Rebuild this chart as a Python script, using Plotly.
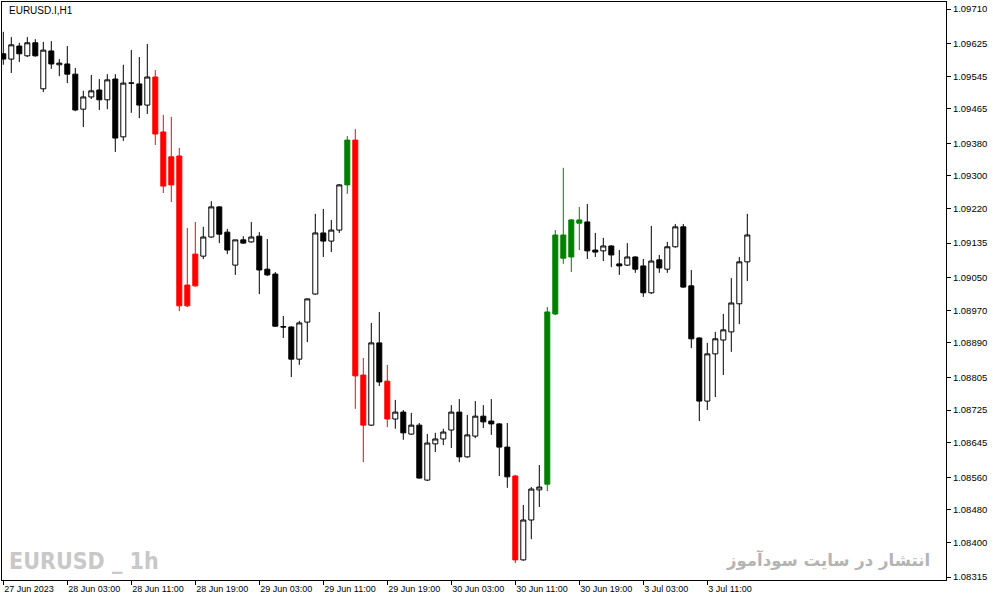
import plotly.graph_objects as go

# ---- data (EURUSD.I, H1) ----
opens = [1.09600,1.09587,1.09619,1.09595,1.09627,1.09514,1.09607,1.09573,1.09575,1.09550,
         1.09464,1.09494,1.09511,1.09487,1.09538,1.09396,1.09528,1.09526,1.09474,1.09543,
         1.09408,1.09278,1.09349,1.08981,1.09030,1.09103,1.09150,1.09224,1.09162,1.09081,
         1.09143,1.09138,1.09152,1.09071,1.09059,1.08930,1.08929,1.08850,1.08941,1.09010,
         1.09160,1.09140,1.09167,1.09278,1.09388,1.08811,1.08688,1.08890,1.08796,1.08703,
         1.08720,1.08666,1.08688,1.08553,1.08642,1.08654,1.08676,1.08720,1.08610,1.08661,
         1.08710,1.08698,1.08691,1.08634,1.08563,1.08357,1.08455,1.08529,1.08543,1.08961,
         1.09155,1.09101,1.09192,1.09187,1.09118,1.09116,1.09128,1.09084,1.09081,1.09101,
         1.09079,1.09013,1.09094,1.09071,1.09126,1.09175,1.09030,1.08902,1.08747,1.08863,
         1.08897,1.08917,1.08986,1.09089]
highs = [1.09654,1.09641,1.09627,1.09641,1.09636,1.09629,1.09631,1.09587,1.09619,1.09565,
         1.09509,1.09548,1.09538,1.09550,1.09550,1.09573,1.09609,1.09592,1.09624,1.09560,
         1.09450,1.09445,1.09369,1.09172,1.09187,1.09175,1.09238,1.09226,1.09170,1.09143,
         1.09152,1.09187,1.09162,1.09145,1.09064,1.08956,1.08931,1.08944,1.08999,1.09207,
         1.09219,1.09192,1.09280,1.09398,1.09415,1.08853,1.08939,1.08966,1.08836,1.08750,
         1.08725,1.08718,1.08693,1.08666,1.08669,1.08679,1.08737,1.08752,1.08713,1.08747,
         1.08737,1.08752,1.08693,1.08693,1.08566,1.08492,1.08536,1.08590,1.08978,1.09167,
         1.09320,1.09194,1.09224,1.09231,1.09160,1.09148,1.09130,1.09118,1.09135,1.09103,
         1.09096,1.09177,1.09106,1.09138,1.09182,1.09182,1.09069,1.08904,1.08890,1.08917,
         1.08961,1.09049,1.09101,1.09207]
lows = [1.09573,1.09553,1.09580,1.09592,1.09593,1.09506,1.09563,1.09545,1.09528,1.09459,
        1.09420,1.09489,1.09462,1.09464,1.09359,1.09386,1.09455,1.09442,1.09452,1.09376,
        1.09258,1.09236,1.08968,1.08978,1.09028,1.09096,1.09148,1.09135,1.09108,1.09057,
        1.09133,1.09136,1.09010,1.09054,1.08929,1.08902,1.08806,1.08836,1.08892,1.09008,
        1.09101,1.09113,1.09160,1.09256,1.08728,1.08597,1.08686,1.08784,1.08683,1.08679,
        1.08652,1.08664,1.08556,1.08551,1.08622,1.08639,1.08632,1.08597,1.08608,1.08656,
        1.08681,1.08664,1.08563,1.08534,1.08349,1.08355,1.08408,1.08487,1.08526,1.08958,
        1.09084,1.09064,1.09118,1.09096,1.09101,1.09091,1.09076,1.09057,1.09079,1.09062,
        1.09003,1.09010,1.09062,1.09062,1.09124,1.09025,1.08877,1.08698,1.08725,1.08757,
        1.08811,1.08868,1.08936,1.09042]
closes = [1.09587,1.09622,1.09600,1.09627,1.09595,1.09609,1.09575,1.09577,1.09550,1.09462,
          1.09494,1.09509,1.09487,1.09536,1.09393,1.09528,1.09528,1.09474,1.09543,1.09403,
          1.09275,1.09347,1.08981,1.09032,1.09108,1.09150,1.09224,1.09157,1.09118,1.09143,
          1.09135,1.09150,1.09069,1.09057,1.08931,1.08929,1.08850,1.08939,1.08998,1.09160,
          1.09140,1.09167,1.09278,1.09388,1.08809,1.08688,1.08890,1.08794,1.08703,1.08720,
          1.08669,1.08688,1.08558,1.08644,1.08654,1.08671,1.08720,1.08610,1.08664,1.08710,
          1.08696,1.08691,1.08634,1.08561,1.08357,1.08455,1.08531,1.08536,1.08966,1.09155,
          1.09098,1.09192,1.09184,1.09116,1.09113,1.09128,1.09106,1.09079,1.09101,1.09071,
          1.09013,1.09091,1.09074,1.09126,1.09175,1.09027,1.08900,1.08747,1.08863,1.08900,
          1.08922,1.08988,1.09089,1.09155]
red_bars = [19, 20, 21, 22, 23, 24, 44, 45, 48, 64]
green_bars = [43, 68, 69, 70, 71, 72]

x_tick_bars = [0, 8, 16, 24, 32, 40, 48, 56, 64, 72, 80, 88]
x_tick_labels = ["27 Jun 2023", "28 Jun 03:00", "28 Jun 11:00", "28 Jun 19:00",
                 "29 Jun 03:00", "29 Jun 11:00", "29 Jun 19:00", "30 Jun 03:00",
                 "30 Jun 11:00", "30 Jun 19:00", "3 Jul 03:00", "3 Jul 11:00"]
y_ticks = [1.09710, 1.09625, 1.09545, 1.09465, 1.09380, 1.09300, 1.09220, 1.09135,
           1.09050, 1.08970, 1.08890, 1.08805, 1.08725, 1.08645, 1.08560, 1.08480,
           1.08400, 1.08315]

n = len(opens)
idx = list(range(n))


def subset(members, include):
    o, h, l, c = [], [], [], []
    for i in idx:
        ok = (i in members) if include else (i not in members)
        o.append(opens[i] if ok else None)
        h.append(highs[i] if ok else None)
        l.append(lows[i] if ok else None)
        c.append(closes[i] if ok else None)
    return o, h, l, c


special = set(red_bars) | set(green_bars)
fig = go.Figure()

o, h, l, c = subset(special, False)
fig.add_trace(go.Candlestick(
    x=idx, open=o, high=h, low=l, close=c,
    increasing=dict(line=dict(color="black", width=1), fillcolor="white"),
    decreasing=dict(line=dict(color="black", width=1), fillcolor="black"),
    hoverinfo="skip", showlegend=False))

o, h, l, c = subset(set(red_bars), True)
fig.add_trace(go.Candlestick(
    x=idx, open=o, high=h, low=l, close=c,
    increasing=dict(line=dict(color="#ff0000", width=1), fillcolor="#ff0000"),
    decreasing=dict(line=dict(color="#ff0000", width=1), fillcolor="#ff0000"),
    hoverinfo="skip", showlegend=False))

o, h, l, c = subset(set(green_bars), True)
fig.add_trace(go.Candlestick(
    x=idx, open=o, high=h, low=l, close=c,
    increasing=dict(line=dict(color="#008000", width=1), fillcolor="#008000"),
    decreasing=dict(line=dict(color="#008000", width=1), fillcolor="#008000"),
    hoverinfo="skip", showlegend=False))

W, H = 993, 601
L_PX, R_PX, T_PX, B_PX = 2, 946, 2, 580
px_per_bar = 8.0
first_bar_px = 3.3
x0 = -(first_bar_px - L_PX) / px_per_bar
x1 = x0 + (R_PX - L_PX) / px_per_bar
price_per_px = (y_ticks[0] - y_ticks[-1]) / (577 - 9)
y_top = y_ticks[0] + (9 - T_PX) * price_per_px
y_bot = y_ticks[0] - (B_PX - 9) * price_per_px


def px_x(p):
    return (p - L_PX) / (R_PX - L_PX)


def px_y(p):
    return (B_PX - p) / (B_PX - T_PX)


fig.update_layout(
    width=W, height=H,
    margin=dict(l=L_PX, r=W - R_PX, t=T_PX, b=H - B_PX, pad=0, autoexpand=False),
    paper_bgcolor="white", plot_bgcolor="white",
    boxgap=0.375, boxgroupgap=0,
    font=dict(family="Liberation Sans, Arial, sans-serif", color="black"),
    xaxis=dict(
        range=[x0, x1], rangeslider=dict(visible=False), automargin=False,
        showgrid=False, zeroline=False,
        showline=True, mirror=True, linecolor="black", linewidth=1,
        tickmode="array", tickvals=x_tick_bars, ticktext=x_tick_labels,
        ticks="outside", ticklen=4, tickcolor="black", tickwidth=1,
        ticklabelposition="outside right",
        tickfont=dict(size=9, color="black"),
        fixedrange=True),
    yaxis=dict(
        range=[y_bot, y_top], side="right", automargin=False,
        showgrid=False, zeroline=False,
        showline=True, mirror=True, linecolor="black", linewidth=1,
        tickmode="array", tickvals=y_ticks,
        ticktext=[f"{v:.5f}" for v in y_ticks],
        ticks="outside", ticklen=4, tickcolor="black", tickwidth=1,
        tickfont=dict(size=9.5, color="black"),
        fixedrange=True),
    annotations=[
        dict(text="EURUSD.I,H1", xref="paper", yref="paper",
             x=px_x(7), y=px_y(10.5), xanchor="left", yanchor="middle",
             showarrow=False, font=dict(size=10, color="black")),
        dict(text="<b>EURUSD _ 1h</b>", xref="paper", yref="paper",
             x=px_x(7), y=px_y(561), xanchor="left", yanchor="middle",
             showarrow=False,
             font=dict(size=23, color="#c8c8c8",
                       family="Liberation Sans Narrow, DejaVu Sans Condensed, sans-serif")),
        dict(text="<b>انتشار در سایت سودآموز</b>", xref="paper", yref="paper",
             x=px_x(932), y=px_y(560), xanchor="right", yanchor="middle",
             showarrow=False,
             font=dict(size=16.5, color="#b4b4b4", family="DejaVu Sans, sans-serif")),
    ],
)

fig.write_html("out.html", config={"displayModeBar": False},
               post_script="document.body.style.margin='0px';document.body.style.overflow='hidden';")
